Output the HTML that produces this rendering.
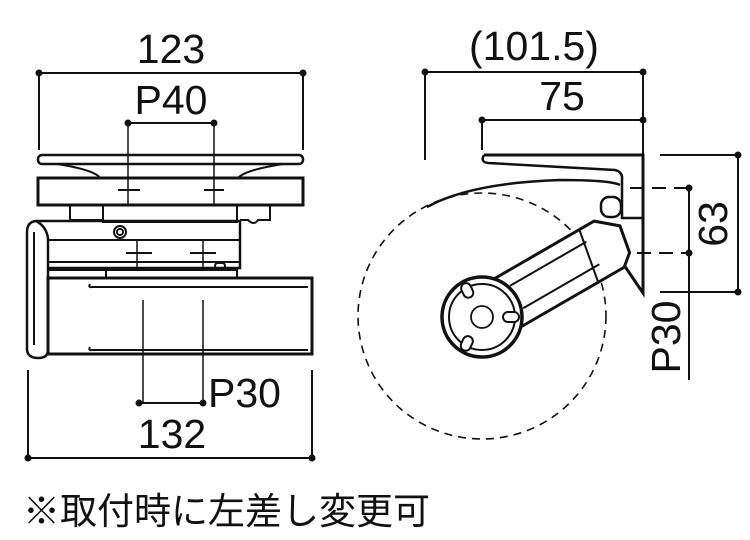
<!DOCTYPE html>
<html><head><meta charset="utf-8"><style>
html,body{margin:0;padding:0;background:#fff;}
svg{display:block;}
text{font-family:"Liberation Sans","Noto Sans CJK JP",sans-serif;fill:#111;}
</style></head><body>
<svg width="750" height="540" viewBox="0 0 750 540" xmlns="http://www.w3.org/2000/svg">
<g stroke="#111" fill="none" stroke-width="2">
<line x1="39" y1="73" x2="303" y2="73"/>
<line x1="39" y1="73" x2="39" y2="150"/>
<line x1="303" y1="73" x2="303" y2="150"/>
<line x1="128" y1="123" x2="214" y2="123"/>
<line x1="128" y1="123" x2="128" y2="205" stroke-width="1.5"/>
<line x1="214" y1="123" x2="214" y2="205" stroke-width="1.5"/>
<rect x="38" y="155" width="265" height="9" rx="4" stroke-width="2.5"/>
<path d="M57,164 Q95,170 100,178 M283,164 Q245,170 238,178" stroke-width="2"/>
<rect x="38" y="178" width="265" height="27" stroke-width="3"/>
<line x1="118" y1="190" x2="140" y2="190"/><line x1="204" y1="190" x2="224" y2="190"/>
<rect x="70" y="205" width="33" height="15"/>
<rect x="103" y="205" width="134" height="17"/>
<path d="M237,205 H270 V220 H258 Q254,226 248,220 H240"/>
<path d="M36,221 H240 V268 H48" stroke-width="2.5"/>
<line x1="48" y1="240" x2="240" y2="240"/>
<line x1="48" y1="262" x2="240" y2="262"/>
<circle cx="120" cy="232" r="6"/><circle cx="120" cy="232" r="3"/>
<line x1="126" y1="253" x2="152" y2="253"/><line x1="190" y1="253" x2="216" y2="253"/>
<line x1="137" y1="240" x2="137" y2="268" stroke-width="1.5"/><line x1="203" y1="240" x2="203" y2="268" stroke-width="1.5"/>
<rect x="215" y="263" width="10" height="6" rx="3"/>
<path d="M36,221 Q27,222 27,232 V350 Q28,358 38,358 Q48,358 48,350 V238 Q46,226 36,221 Z" stroke-width="2.5"/>
<line x1="34" y1="232" x2="34" y2="345"/>
<rect x="48" y="270" width="58" height="8"/>
<path d="M106,270 H237 V278"/>
<rect x="48" y="278" width="264" height="76" stroke-width="3"/>
<path d="M90,284 Q88,288 92,287 H308" /><path d="M90,347 Q88,351 92,350 H308"/>
<line x1="143" y1="300" x2="143" y2="403" stroke-width="1.5"/>
<line x1="203" y1="300" x2="203" y2="403" stroke-width="1.5"/>
<line x1="139" y1="403" x2="203" y2="403"/>
<line x1="28" y1="370" x2="28" y2="458"/><line x1="312" y1="370" x2="312" y2="458"/>
<line x1="28" y1="458" x2="312" y2="458"/>
<line x1="425" y1="72" x2="643" y2="72"/>
<line x1="425" y1="72" x2="425" y2="160"/>
<line x1="643" y1="72" x2="643" y2="155"/>
<line x1="482" y1="120" x2="643" y2="120"/>
<line x1="482" y1="120" x2="482" y2="150"/>
<line x1="660" y1="155" x2="738" y2="155"/>
<line x1="660" y1="292" x2="738" y2="292"/>
<line x1="738" y1="155" x2="738" y2="292"/>
<line x1="689" y1="188" x2="689" y2="380"/>
<line x1="630" y1="188" x2="689" y2="188" stroke-dasharray="14,8"/>
<line x1="615" y1="253" x2="689" y2="253" stroke-dasharray="14,8"/>
<ellipse cx="482" cy="316" rx="124" ry="123" stroke-width="1.6" stroke-dasharray="8,6"/>
<path d="M484,155 H643 V293 L622,262" stroke-width="3"/>
<path d="M484,155 Q480,162 488,163 L615,170 Q623,172 622,180 V218 H643" stroke-width="2.5"/>
<path d="M427,207 Q470,183 560,180 Q610,180 620,185" stroke-width="2.5"/>
<rect x="601" y="197" width="20" height="20" rx="8" stroke-width="2.5"/>
<g transform="translate(482,317) rotate(-30)">
<path d="M25,-27 H145 L165,-10 L160,18 L148,28 H30" stroke-width="3" fill="#fff"/>
<line x1="40" y1="-13" x2="128" y2="-13"/>
<line x1="40" y1="13" x2="128" y2="13"/>
<path d="M128,-27 L118,28"/>
</g>
<circle cx="482" cy="317" r="40" stroke-width="3.5" fill="#fff"/>
<circle cx="482" cy="317" r="33" stroke-width="2"/>
<circle cx="482" cy="317" r="11" stroke-width="1.8"/>
<rect x="503" y="312" width="16" height="10" rx="5" fill="#fff"/>
<rect x="462" y="283" width="10" height="15" rx="5" transform="rotate(-25 467 290)" fill="#fff"/>
<rect x="462" y="336" width="10" height="15" rx="5" transform="rotate(25 467 343)" fill="#fff"/>
</g>
<g fill="#111">
<circle cx="39" cy="73" r="3.5"/><circle cx="303" cy="73" r="3.5"/>
<circle cx="128" cy="123" r="3.5"/><circle cx="214" cy="123" r="3.5"/>
<circle cx="139" cy="403" r="3.5"/><circle cx="203" cy="403" r="3.5"/>
<circle cx="28" cy="458" r="3.5"/><circle cx="312" cy="458" r="3.5"/>
<circle cx="425" cy="72" r="3.5"/><circle cx="643" cy="72" r="3.5"/>
<circle cx="482" cy="120" r="3.5"/><circle cx="643" cy="120" r="3.5"/>
<circle cx="738" cy="155" r="3.5"/><circle cx="738" cy="292" r="3.5"/>
<circle cx="689" cy="188" r="3.5"/><circle cx="689" cy="253" r="3.5"/>
</g>
<text x="171" y="63" font-size="41" text-anchor="middle">123</text>
<text x="171" y="114" font-size="41" text-anchor="middle">P40</text>
<text x="208" y="407" font-size="41">P30</text>
<text x="172" y="448" font-size="41" text-anchor="middle">132</text>
<text x="534" y="60" font-size="41" text-anchor="middle">(101.5)</text>
<text x="562" y="110" font-size="41" text-anchor="middle">75</text>
<text transform="translate(727,224) rotate(-90)" font-size="41" text-anchor="middle">63</text>
<text transform="translate(680,337) rotate(-90)" font-size="41" text-anchor="middle">P30</text>
<text x="23" y="524" font-size="37">※取付時に左差し変更可</text>
</svg>
</body></html>
